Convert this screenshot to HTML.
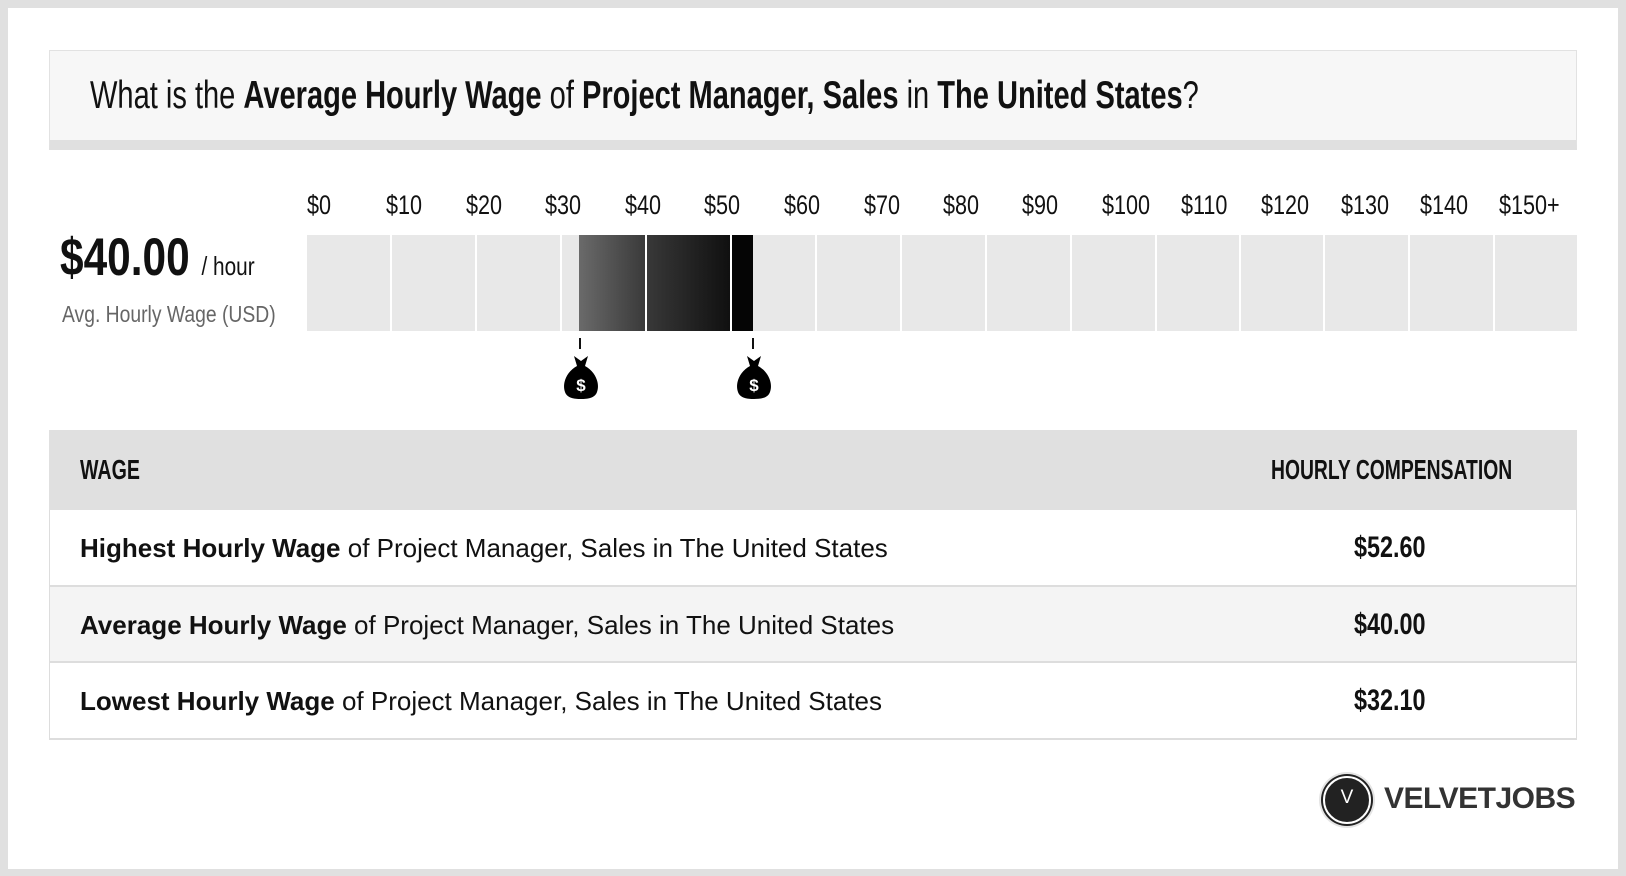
<!DOCTYPE html>
<html><head><meta charset="utf-8">
<style>
*{margin:0;padding:0;box-sizing:border-box}
body{width:1626px;height:876px;background:#e0e0e0;position:relative;overflow:hidden;font-family:"Liberation Sans",Arial,sans-serif}
.frame{position:absolute;left:8px;top:8px;width:1610px;height:861px;background:#fff}
.c{font-family:"Liberation Sans Narrow","Liberation Sans",sans-serif;font-stretch:condensed;white-space:nowrap;position:absolute;transform-origin:0 50%}
.titlebox{position:absolute;left:49px;top:50px;width:1528px;height:100px;background:#f7f7f7;border:1px solid #e2e2e2;border-bottom:10px solid #e0e0e0}
.tick{position:absolute;top:190px;font-size:27px;color:#111;transform:scaleX(0.8)}
.cell{position:absolute;top:235px;height:96px;background:#e8e8e8}
.row{position:absolute;left:49px;width:1528px;border-bottom:2px solid #ddd;border-left:1px solid #ddd;border-right:1px solid #ddd}
.rt{position:absolute;left:30px;font-size:26px;color:#111}
.val{position:absolute;font-size:30px;font-weight:bold;color:#111}
</style></head><body>
<div class="frame"></div>
<div class="titlebox"></div>
<div class="c" style="left:90px;top:71px;font-size:39px;line-height:50px;color:#111;transform:scaleX(0.745)">What is the <b>Average Hourly Wage</b> of <b>Project Manager, Sales</b> in <b>The United States</b>?</div>

<div class="c" style="left:60px;top:228px;font-size:53px;font-weight:bold;line-height:60px;color:#111;transform:scaleX(0.8)">$40.00 <span style="font-size:26px;font-weight:normal">/ hour</span></div>
<div class="c" style="left:62px;top:300px;font-size:23px;line-height:28px;color:#666;transform:scaleX(0.84)">Avg. Hourly Wage (USD)</div>

<div class="c tick" style="left:307px">$0</div>
<div class="c tick" style="left:386px">$10</div>
<div class="c tick" style="left:466px">$20</div>
<div class="c tick" style="left:545px">$30</div>
<div class="c tick" style="left:625px">$40</div>
<div class="c tick" style="left:704px">$50</div>
<div class="c tick" style="left:784px">$60</div>
<div class="c tick" style="left:864px">$70</div>
<div class="c tick" style="left:943px">$80</div>
<div class="c tick" style="left:1022px">$90</div>
<div class="c tick" style="left:1102px">$100</div>
<div class="c tick" style="left:1181px">$110</div>
<div class="c tick" style="left:1261px">$120</div>
<div class="c tick" style="left:1341px">$130</div>
<div class="c tick" style="left:1420px">$140</div>
<div class="c tick" style="left:1499px">$150+</div>

<div class="cell" style="left:307px;width:83px"></div>
<div class="cell" style="left:392px;width:83px"></div>
<div class="cell" style="left:477px;width:83px"></div>
<div class="cell" style="left:562px;width:83px"></div>
<div class="cell" style="left:647px;width:83px"></div>
<div class="cell" style="left:732px;width:83px"></div>
<div class="cell" style="left:817px;width:83px"></div>
<div class="cell" style="left:902px;width:83px"></div>
<div class="cell" style="left:987px;width:83px"></div>
<div class="cell" style="left:1072px;width:83px"></div>
<div class="cell" style="left:1157px;width:82px"></div>
<div class="cell" style="left:1241px;width:82px"></div>
<div class="cell" style="left:1325px;width:83px"></div>
<div class="cell" style="left:1410px;width:83px"></div>
<div class="cell" style="left:1495px;width:82px"></div>
<div class="cell" style="left:579px;width:66px;background:linear-gradient(90deg,#6a6a6a,#3a3a3a)"></div>
<div class="cell" style="left:647px;width:83px;background:linear-gradient(90deg,#383838,#101010)"></div>
<div class="cell" style="left:732px;width:21px;background:#050505"></div>

<div style="position:absolute;left:579px;top:338px;width:2px;height:11px;background:#111"></div>
<div style="position:absolute;left:752px;top:338px;width:2px;height:11px;background:#111"></div>
<svg style="position:absolute;left:562px;top:354px" width="38" height="46" viewBox="0 0 38 46">
<path d="M12 2 L19 7 L26 2 L23 12 C34 18 38 30 35 38 C33 44 26 45 19 45 C12 45 5 44 3 38 C0 30 4 18 15 12 Z" fill="#000"/>
<text x="19" y="37" font-family="Liberation Sans" font-weight="bold" font-size="17" fill="#fff" text-anchor="middle">$</text></svg>
<svg style="position:absolute;left:735px;top:354px" width="38" height="46" viewBox="0 0 38 46">
<path d="M12 2 L19 7 L26 2 L23 12 C34 18 38 30 35 38 C33 44 26 45 19 45 C12 45 5 44 3 38 C0 30 4 18 15 12 Z" fill="#000"/>
<text x="19" y="37" font-family="Liberation Sans" font-weight="bold" font-size="17" fill="#fff" text-anchor="middle">$</text></svg>

<div style="position:absolute;left:49px;top:430px;width:1528px;height:80px;background:#e0e0e0"></div>
<div class="c" style="left:80px;top:455px;font-size:28px;font-weight:bold;line-height:30px;color:#111;transform:scaleX(0.7)">WAGE</div>
<div class="c" style="left:1271px;top:455px;font-size:28px;font-weight:bold;line-height:30px;color:#111;transform:scaleX(0.69)">HOURLY COMPENSATION</div>

<div class="row" style="top:510px;height:77px;background:#fff"><div class="rt" style="top:23px"><b>Highest Hourly Wage</b> of Project Manager, Sales in The United States</div></div>
<div class="row" style="top:587px;height:76px;background:#f4f4f4"><div class="rt" style="top:23px"><b>Average Hourly Wage</b> of Project Manager, Sales in The United States</div></div>
<div class="row" style="top:663px;height:77px;background:#fff"><div class="rt" style="top:23px"><b>Lowest Hourly Wage</b> of Project Manager, Sales in The United States</div></div>
<div class="c val" style="left:1354px;top:531px;transform:scaleX(0.78)">$52.60</div>
<div class="c val" style="left:1354px;top:608px;transform:scaleX(0.78)">$40.00</div>
<div class="c val" style="left:1354px;top:684px;transform:scaleX(0.78)">$32.10</div>

<div style="position:absolute;left:1319px;top:772px;width:56px;height:56px;border-radius:50%;background:#e4e4e4"></div>
<div style="position:absolute;left:1323px;top:776px;width:48px;height:48px;border-radius:50%;background:#222;border:2px solid #fff;box-shadow:0 0 0 2px #222"></div>
<div style="position:absolute;left:1323px;top:787px;width:48px;text-align:center;font-size:19px;color:#fff">V</div>
<div style="position:absolute;left:1384px;top:782px;font-size:30px;font-weight:bold;color:#333;letter-spacing:-0.5px">VELVETJOBS</div>
</body></html>
